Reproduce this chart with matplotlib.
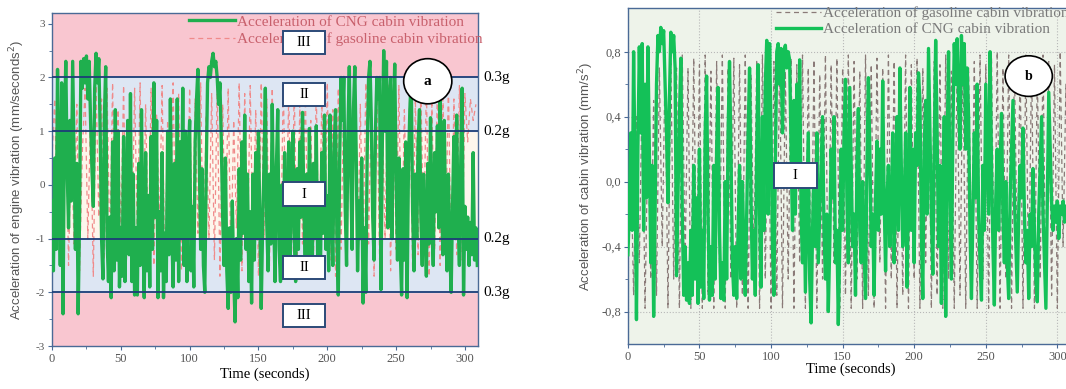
import numpy as np
from matplotlib import pyplot as plt
from matplotlib.patches import Ellipse, Rectangle

# ---------------- data ----------------
# panel a: engine vibration, CNG sampled every 1 s, gasoline every 2 s
cng_engine = [
    -0.3, -1.6, 0.5, -1.2, 2.15, 0.2, -1.5, 1.9, -2.4, 1.0,
    2.3, 0.3, -0.8, 1.2, -0.3, 2.3, 0.6, -1.2, 0.4, -2.4,
    -0.6, 2.3, 1.8, 2.35, 1.9, 2.4, 1.6, 2.3, 1.2, 0.3,
    -0.4, 1.8, 2.45, 1.9, 2.35, 1.0, -1.0, -1.75, 1.2, 2.2,
    -1.0, -1.8, -0.6, -2.1, 0.8, -1.6, 1.4, -1.4, 1.0, -1.9,
    -0.8, -1.7, 0.9, -1.8, -0.4, 1.2, -1.3, 1.7, -1.8, 0.2,
    -2.05, -0.8, -2.05, 0.4, -1.5, 1.4, -0.9, -2.1, 0.6, -1.6,
    -0.2, -1.9, 0.9, -1.2, 1.9, -0.6, 1.2, -2.1, -0.5, -1.6,
    0.6, -2.1, -0.9, -1.8, 1.0, -1.3, 1.6, -0.8, -1.9, 0.4,
    -1.4, 1.6, -1.8, 0.8, -1.0, 1.8, -1.5, 1.0, -1.8, 0.5,
    1.2, -1.6, -0.4, -1.9, 0.8, 1.6, 2.15, 0.5, -1.2, 0.3,
    -1.5, -2.0, 0.2, 1.9, 2.2, 2.0, 2.3, 2.45, 2.2, 2.3,
    2.0, 1.5, 1.9, 0.8, -0.6, -1.5, 0.5, -1.6, -2.3, -0.8,
    -2.0, -0.3, -1.7, -2.55, -1.0, -2.1, 0.3, -1.4, 0.8, -0.9,
    1.3, -1.2, 0.2, -1.8, -0.5, -2.2, 0.2, -1.4, 0.6, -1.0,
    1.0, -0.6, -2.3, -0.8, 0.4, 1.8, -0.7, -1.6, 0.2, -1.1,
    1.5, -0.4, -1.8, 0.3, 1.4, -1.2, -1.8, 0.0, -1.5, 0.6,
    -1.7, -0.6, 0.8, -1.3, -0.2, 1.0, -1.0, -1.8, 0.3, -1.2,
    0.8, -0.6, 1.35, -0.4, -1.5, 0.2, -1.6, 1.05, -0.5, -1.7,
    0.4, -1.0, 1.1, -1.4, 0.0, -1.7, 0.6, -0.9, 1.3, -1.2,
    -0.2, -1.6, 1.3, -0.3, -1.5, 0.7, 1.4, -1.0, -2.05, 0.5,
    2.0, 1.2, 2.0, -0.4, -1.5, 1.0, 2.2, 0.3, -1.2, 1.4,
    2.2, 0.6, -1.6, -0.3, -1.0, 0.5, -2.2, -0.8, -2.0, 0.6,
    2.0, 2.3, 1.2, -0.6, -1.4, 1.0, 2.0, 1.6, 2.0, -1.95,
    0.8, 2.5, 1.0, 2.3, -0.8, 1.5, 2.0, -1.0, 1.2, 2.25,
    0.2, -1.4, 0.5, -1.2, -2.05, 0.3, -1.4, 0.8, -2.1, 0.4,
    1.4, 2.0, -0.5, -1.6, 0.2, -1.0, 0.8, 1.4, -0.6, -1.5,
    0.2, -0.8, -1.7, 0.4, -1.1, 1.25, -0.6, -1.5, 0.6, -0.5,
    1.1, -0.8, 1.7, -0.3, -1.3, 1.2, -0.7, -1.6, 0.2, -1.2,
    -2.0, -0.4, 0.9, -1.0, 1.3, -0.6, -1.5, 0.5, 1.8, -2.05,
    -0.4, -1.2, -0.6, -1.5, -0.7, -1.3, 0.6, -1.4, -0.8, -1.5,
]
gas_engine = [
    0.5, 1.6, -1.2, 1.4, -0.8, 1.7, -1.5, 0.9, -1.1, 1.5,
    -1.6, 0.6, 1.8, -1.0, 1.3, -1.7, 1.85, -0.6, 1.6, -1.4,
    1.8, -1.2, 1.9, -1.6, 1.4, -0.9, 1.85, -1.5, 1.1, -1.3,
    1.8, -1.0, 1.9, -1.6, 1.5, -1.2, 1.8, -1.5, 1.3, -0.8,
    1.85, -1.7, 1.2, -1.1, 1.9, -1.4, 1.7, -1.6, 1.0, -1.2,
    1.8, -1.5, 1.6, -0.9, 1.9, -1.6, 1.3, -1.0, 1.7, -1.4,
    1.85, -1.7, 1.5, -1.2, 1.8, -1.5, 1.2, -0.8, 1.9, -1.6,
    1.7, -1.3, 1.85, -1.1, 1.4, -1.7, 1.9, -1.0, 1.6, -1.5,
    1.8, -1.2, 1.3, -1.6, 1.9, -0.9, 1.7, -1.4, 1.85, -1.7,
    1.5, -1.1, 1.9, -1.5, 1.2, -1.3, 1.8, -1.6, 1.6, -1.0,
    1.9, -1.4, 1.4, -1.7, 1.8, -1.2, 1.7, -1.5, 1.1, -0.9,
    1.85, -1.6, 1.5, -1.3, 1.9, -1.1, 1.6, -1.7, 1.8, -1.4,
    1.3, -1.0, 1.9, -1.6, 1.7, -1.2, 1.85, -1.5, 1.4, -0.8,
    1.9, -1.6, 1.6, -1.3, 1.8, -1.1, 1.9, -1.7, 1.5, -1.2,
    1.85, -1.5, 1.7, -1.0, 1.9, -1.6, 1.6, -1.3, 1.85, -1.4,
    1.7, 0.8, 1.6, 1.2, 1.5,
]

# panel b: cabin vibration, CNG every 1 s, gasoline every 2 s
cng_cabin = [
    -0.45, -0.2, 0.3, -0.3, 0.8, 0.1, -0.85, 0.2, 0.83, 0.3,
    0.85, -0.3, 0.6, -0.1, 0.83, 0.2, -0.5, 0.1, -0.83, -0.2,
    0.6, 0.9, 0.8, 0.95, 0.85, 0.93, 0.6, 0.3, -0.13, 0.5,
    0.92, 0.8, 0.9, 0.7, -0.58, -0.1, 0.4, 0.76, -0.2, -0.7,
    -0.4, -0.73, -0.5, -0.75, -0.3, -0.7, 0.1, -0.6, -0.1, -0.75,
    0.2, -0.65, -0.3, -0.72, 0.3, 0.65, -0.2, -0.73, -0.4, -0.7,
    0.1, -0.6, 0.2, 0.58, -0.3, -0.72, -0.5, -0.73, 0.0, -0.6,
    0.3, 0.74, 0.2, -0.5, -0.7, -0.4, -0.72, -0.3, 0.1, -0.6,
    0.0, -0.4, -0.7, -0.2, 0.3, 0.7, -0.1, -0.6, -0.3, -0.7,
    0.2, 0.72, -0.2, -0.65, 0.4, -0.3, 0.6, 0.87, -0.2, 0.85,
    0.3, -0.4, -0.7, 0.1, 0.8, 0.85, 0.6, 0.82, 0.3, 0.8,
    0.84, 0.7, 0.8, 0.75, 0.2, -0.3, 0.5, -0.2, 0.6, 0.1,
    0.75, -0.2, -0.5, 0.0, -0.68, -0.2, 0.3, -0.6, -0.87, -0.3,
    0.1, -0.4, 0.3, -0.5, -0.2, 0.1, 0.4, -0.3, -0.6, -0.2,
    -0.8, -0.4, 0.2, -0.1, 0.4, -0.5, -0.3, -0.88, -0.4, 0.2,
    -0.3, 0.3, 0.63, -0.1, -0.5, 0.58, 0.1, -0.4, -0.2, -0.7,
    0.1, 0.45, -0.3, -0.5, 0.0, -0.4, -0.72, 0.1, 0.64, 0.2,
    -0.4, -0.2, -0.7, -0.1, 0.25, -0.3, 0.2, -0.2, 0.62, -0.1,
    -0.55, -0.1, 0.1, -0.4, -0.2, 0.3, -0.5, 0.0, 0.4, -0.3,
    0.7, 0.1, -0.4, -0.2, 0.3, -0.65, -0.1, 0.58, -0.3, 0.2,
    -0.5, 0.3, 0.1, 0.67, 0.5, -0.3, -0.72, 0.2, 0.5, -0.2,
    0.82, 0.3, -0.2, -0.57, 0.2, 0.87, 0.3, -0.4, 0.1, -0.75,
    -0.2, 0.4, -0.83, 0.2, 0.8, -0.1, -0.6, 0.3, 0.85, 0.6,
    0.88, 0.5, 0.2, 0.9, 0.6, 0.85, 0.2, 0.7, 0.4, -0.3,
    -0.72, -0.2, 0.3, -0.1, 0.6, -0.2, -0.5, -0.73, 0.1, -0.3,
    0.6, 0.2, -0.2, 0.8, 0.1, -0.4, -0.76, -0.1, 0.2, -0.3,
    0.1, 0.42, -0.2, -0.5, 0.0, -0.5, -0.72, -0.1, 0.2, 0.5,
    -0.1, -0.4, -0.68, -0.2, 0.1, -0.1, 0.33, -0.2, -0.5, -0.3,
    -0.72, -0.2, -0.4, 0.08, -0.3, -0.6, -0.74, -0.2, 0.1, 0.4,
    -0.2, -0.5, -0.78, -0.1, 0.55, 0.2, -0.13, -0.3, -0.15, -0.25,
    -0.12, -0.35, -0.15, -0.2, -0.12, -0.25, -0.15, -0.2, -0.1, -0.2,
]
gas_cabin = [
    -0.3, 0.2, -0.7, 0.4, -0.5, 0.6, -0.78, 0.3, -0.6, 0.5,
    -0.7, 0.7, -0.4, 0.72, -0.78, 0.75, -0.6, 0.7, -0.78, 0.78,
    -0.5, 0.7, -0.78, 0.76, -0.6, 0.72, -0.78, 0.78, -0.7, 0.68,
    -0.78, 0.74, -0.5, 0.78, -0.78, 0.7, -0.6, 0.76, -0.78, 0.72,
    -0.7, 0.78, -0.78, 0.66, -0.5, 0.75, -0.78, 0.78, -0.6, 0.7,
    -0.78, 0.74, -0.7, 0.78, -0.78, 0.68, -0.6, 0.76, -0.78, 0.72,
    -0.5, 0.78, -0.78, 0.7, -0.7, 0.75, -0.78, 0.66, -0.6, 0.78,
    -0.78, 0.72, -0.5, 0.76, -0.78, 0.7, -0.7, 0.78, -0.78, 0.74,
    -0.6, 0.68, -0.78, 0.78, -0.7, 0.72, -0.78, 0.76, -0.5, 0.7,
    -0.78, 0.78, -0.6, 0.74, -0.78, 0.66, -0.7, 0.78, -0.78, 0.72,
    -0.6, 0.76, -0.78, 0.7, -0.5, 0.78, -0.78, 0.74, -0.7, 0.72,
    -0.78, 0.78, -0.6, 0.68, -0.78, 0.76, -0.7, 0.78, -0.78, 0.7,
    -0.5, 0.74, -0.78, 0.78, -0.6, 0.72, -0.78, 0.76, -0.7, 0.8,
    -0.78, 0.7, -0.6, 0.78, -0.78, 0.74, -0.5, 0.72, -0.78, 0.78,
    -0.7, 0.76, -0.78, 0.7, -0.6, 0.78, -0.78, 0.74, -0.7, 0.72,
    -0.78, 0.8, -0.4, 0.6, -0.2,
]

legend_a = ["Acceleration of CNG cabin vibration",
            "Acceleration of gasoline cabin vibration"]
legend_b = ["Acceleration of gasoline cabin vibration",
            "Acceleration of CNG cabin vibration"]
zone_labels = ["III", "II", "I", "II", "III"]
zone_label_y = [2.65, 1.68, -0.17, -1.54, -2.44]
g_lines = [2.0, 1.0, -1.0, -2.0]
g_labels = ["0.3g", "0.2g", "0.2g", "0.3g"]

t_cng_eng = np.arange(len(cng_engine))
t_gas_eng = np.arange(len(gas_engine)) * 2
t_cng_cab = np.arange(len(cng_cabin))
t_gas_cab = np.arange(len(gas_cabin)) * 2

SERIF = "Liberation Serif"
SANS = "Liberation Sans"
plt.rcParams['font.family'] = SERIF
plt.rcParams['axes.unicode_minus'] = False


def zone_box(ax, x, y, w, h, label):
    ax.add_patch(Rectangle((x - w / 2, y - h / 2), w, h, fc='white',
                           ec='#2c4a78', lw=1.4, zorder=6))
    ax.text(x, y, label, ha='center', va='center', fontsize=10.5, zorder=7)


fig = plt.figure(figsize=(10.66, 3.89), dpi=100)

# ------------------------- panel a -------------------------
ax1 = fig.add_axes([0.0488, 0.1105, 0.3996, 0.856])
ax1.set_xlim(0, 309.5)
ax1.set_ylim(-3, 3.2)
ax1.set_facecolor('#fdf6ec')
ax1.axhspan(2, 3.2, color='#f9c6d0', zorder=0)
ax1.axhspan(-3, -2, color='#f9c6d0', zorder=0)
ax1.axhspan(1, 2, color='#dde6f3', zorder=0)
ax1.axhspan(-2, -1, color='#dde6f3', zorder=0)

l_gas, = ax1.plot(t_gas_eng, gas_engine, color='#f08a8a', lw=0.9,
                  ls=(0, (4, 3)), zorder=2)
l_cng, = ax1.plot(t_cng_eng, cng_engine, color='#1faf4e', lw=2.4, zorder=3)
for yv in g_lines:
    ax1.axhline(yv, color='#1c3d78', lw=1.3, zorder=4)

for lab, yv in zip(zone_labels, zone_label_y):
    zone_box(ax1, 183, yv, 30.5, 0.43, lab)

for yv, lab in zip(g_lines, g_labels):
    ax1.text(1.012, (yv + 3) / 6.2, lab, transform=ax1.transAxes,
             ha='left', va='center', fontsize=11)

ax1.add_patch(Ellipse((273, 1.93), 35, 0.84, fc='white', ec='black', lw=1.2, zorder=7))
ax1.text(273, 1.93, 'a', ha='center', va='center', fontsize=11,
         fontweight='bold', zorder=8)

leg1 = ax1.legend([l_cng, l_gas], legend_a, loc='upper left',
                  bbox_to_anchor=(0.29, 1.035), frameon=False, fontsize=11,
                  handlelength=3.0, handletextpad=0.1, labelspacing=0.25)
leg1.set_zorder(5)
for txt in leg1.get_texts():
    txt.set_color('#c8606c')

ax1.set_xticks([0, 50, 100, 150, 200, 250, 300])
ax1.set_xticks(np.arange(25, 310, 50), minor=True)
ax1.set_yticks([-3, -2, -1, 0, 1, 2, 3])
ax1.set_yticks([-2.5, -1.5, -0.5, 0.5, 1.5, 2.5], minor=True)
ax1.set_xlabel("Time (seconds)", fontsize=10.5, labelpad=2)
ax1.set_ylabel("Acceleration of engine vibration (mm/seconds$^2$)",
               family=SANS, fontsize=9.5, color='#555555', labelpad=6)

# ------------------------- panel b -------------------------
ax2 = fig.add_axes([0.589, 0.1157, 0.419, 0.864])
ax2.set_xlim(0, 312)
ax2.set_ylim(-1.0, 1.07)
ax2.set_facecolor('#eef3ea')
ax2.grid(True, ls=':', color='#b8b8b8', lw=0.8)
ax2.set_axisbelow(True)

g_gas, = ax2.plot(t_gas_cab, gas_cabin, color='#8a7a78', lw=0.9,
                  ls=(0, (4, 3)), zorder=2)
g_cng, = ax2.plot(t_cng_cab, cng_cabin, color='#14c158', lw=2.4, zorder=3)

zone_box(ax2, 117, 0.04, 30.5, 0.155, 'I')
ax2.add_patch(Ellipse((280, 0.65), 33, 0.25, fc='white', ec='black', lw=1.2, zorder=7))
ax2.text(280, 0.65, 'b', ha='center', va='center', fontsize=10,
         fontweight='bold', zorder=8)

leg2 = ax2.legend([g_gas, g_cng], legend_b, loc='upper left',
                  bbox_to_anchor=(0.30, 1.045), frameon=False, fontsize=11,
                  handlelength=3.0, handletextpad=0.1, labelspacing=0.15)
for txt in leg2.get_texts():
    txt.set_color('#7a7a7a')

ax2.set_xticks([0, 50, 100, 150, 200, 250, 300])
ax2.set_xticks(np.arange(25, 310, 50), minor=True)
ax2.set_yticks([-0.8, -0.4, 0.0, 0.4, 0.8])
ax2.set_yticklabels(["-0,8", "-0,4", "0,0", "0,4", "0,8"])
ax2.set_yticks([-0.6, -0.2, 0.2, 0.6], minor=True)
ax2.set_xlabel("Time (seconds)", fontsize=10.5, labelpad=0)
ax2.set_ylabel("Acceleration of cabin vibration (mm/s$^2$)",
               family=SANS, fontsize=9.5, color='#555555', labelpad=4)

for ax in (ax1, ax2):
    for sp in ax.spines.values():
        sp.set_color('#4a6a96')
        sp.set_linewidth(1.0)
    ax.tick_params(which='major', length=3, color='#4a6a96', labelsize=9,
                   labelcolor='#555555', pad=2)
    ax.tick_params(which='minor', length=2, color='#4a6a96')
ax1.tick_params(axis='y', labelsize=8)

fig.savefig("out.png", dpi=100)
